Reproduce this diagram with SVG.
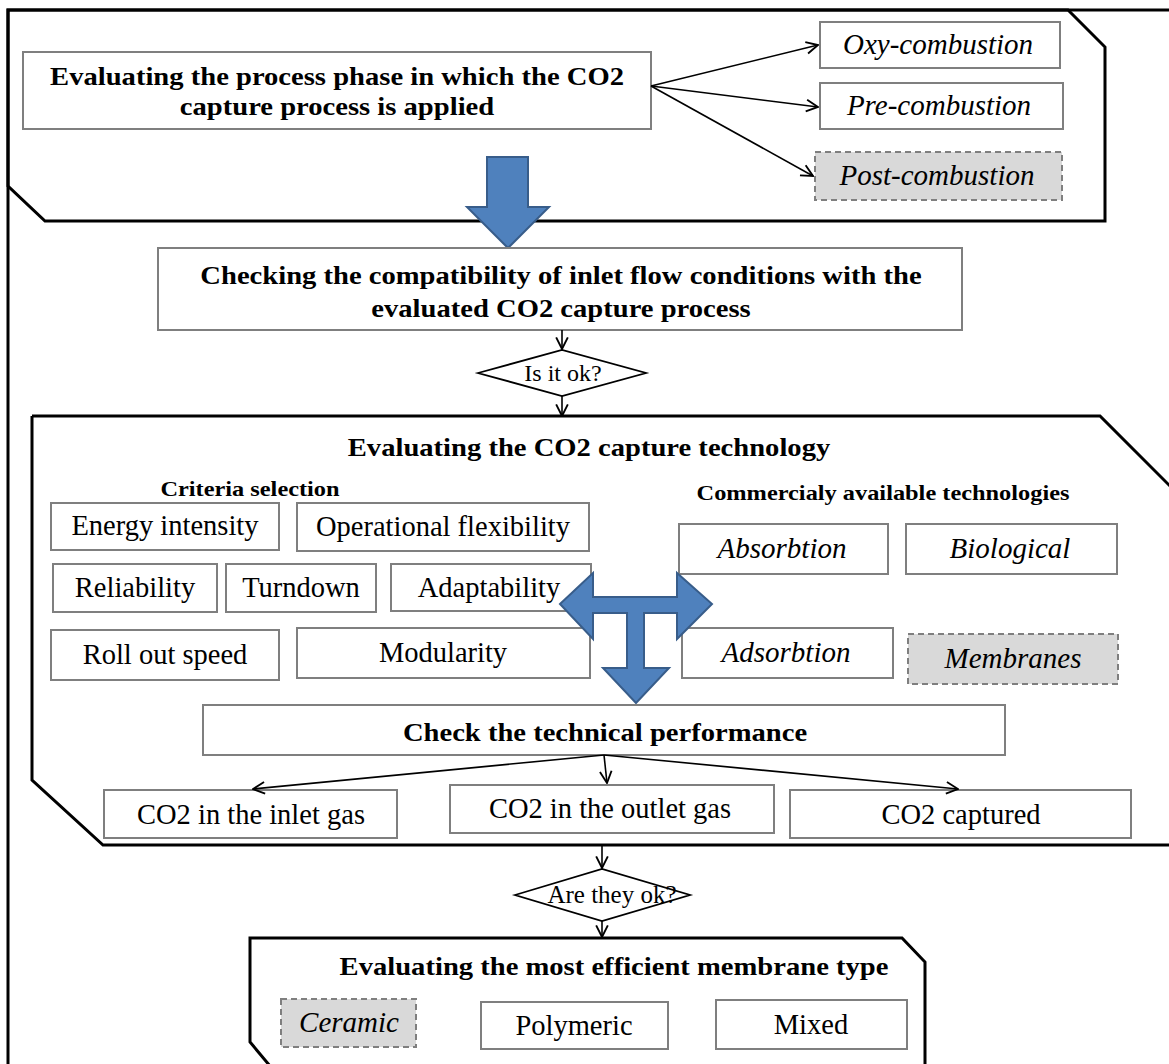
<svg xmlns="http://www.w3.org/2000/svg" width="1169" height="1064" viewBox="0 0 1169 1064">
<defs>
<style>
.panel{fill:none;stroke:#000;stroke-width:3;stroke-linejoin:miter}
.box{fill:#fff;stroke:#7f7f7f;stroke-width:2}
.sel{fill:#d9d9d9;stroke:#7f7f7f;stroke-width:2;stroke-dasharray:6 4}
.t{font-family:"Liberation Serif","Times New Roman",serif;fill:#000;text-anchor:middle}
.b{font-weight:bold;font-size:26px}
.h{font-weight:bold;font-size:21px}
.r{font-size:28.5px}
.i{font-size:29px;font-style:italic}
.d{font-size:24px}
.con{fill:none;stroke:#000;stroke-width:1.6}
.blue{fill:#4f81bd;stroke:#385d8a;stroke-width:2;stroke-linejoin:miter}
</style>
<marker id="ah" viewBox="0 0 12 12" refX="11" refY="6" markerWidth="14" markerHeight="14" markerUnits="userSpaceOnUse" orient="auto">
<path d="M1,1 L11,6 L1,11" fill="none" stroke="#000" stroke-width="1.6"/>
</marker>
</defs>
<rect width="1169" height="1064" fill="#fff"/>

<g id="frame">
<path class="panel" d="M8,1066 V10 H1172"/>
</g>

<g id="panel-phase">
<path class="panel" d="M8,10 H1068 L1105,47 V221 H45 L8,186 Z"/>
</g>
<g id="panel-tech">
<path class="panel" d="M32,416 H1100 L1175,491 M1172,845 H103 L32,780 V416"/>
</g>
<g id="panel-membrane">
<path class="panel" d="M270,1066 L250,1042 V938 H902 L925,962 V1066"/>
</g>

<g id="n-phase">
<rect class="box" x="23" y="52" width="628" height="77"/>
<text class="t b" transform="translate(337 85) scale(1.1 1)">Evaluating the process phase in which the CO2</text>
<text class="t b" transform="translate(337 115) scale(1.1 1)">capture process is applied</text>
</g>
<g id="n-oxy">
<rect class="box" x="820" y="22" width="240" height="46"/>
<text class="t i" x="938" y="54">Oxy-combustion</text>
</g>
<g id="n-pre">
<rect class="box" x="820" y="83" width="243" height="46"/>
<text class="t i" x="939" y="115">Pre-combustion</text>
</g>
<g id="n-post">
<rect class="sel" x="815" y="152" width="247" height="48"/>
<text class="t i" x="937" y="185">Post-combustion</text>
</g>

<g id="n-arrow1">
<path class="blue" d="M487,157 H528 V207 H549 L508,248 L467,207 H487 Z"/>
</g>

<g id="n-check">
<rect class="box" x="158" y="248" width="804" height="82"/>
<text class="t b" transform="translate(561 284) scale(1.1 1)">Checking the compatibility of inlet flow conditions with the</text>
<text class="t b" transform="translate(561 317) scale(1.1 1)">evaluated CO2 capture process</text>
</g>

<g id="n-ok1">
<path d="M478,373 L562,350 L646,373 L562,396 Z" fill="#fff" stroke="#000" stroke-width="1.8"/>
<text class="t d" x="563" y="381">Is it ok?</text>
</g>

<g id="n-tech-title">
<text class="t b" transform="translate(589 456) scale(1.1 1)">Evaluating the CO2 capture technology</text>
</g>
<g id="n-criteria-title">
<text class="t h" transform="translate(250 496) scale(1.16 1)">Criteria selection</text>
</g>
<g id="n-commercial-title">
<text class="t h" transform="translate(883 500) scale(1.16 1)">Commercialy available technologies</text>
</g>

<g id="n-energy"><rect class="box" x="51" y="503" width="228" height="47"/><text class="t r" x="165" y="535">Energy intensity</text></g>
<g id="n-opflex"><rect class="box" x="297" y="503" width="292" height="48"/><text class="t r" x="443" y="536">Operational flexibility</text></g>
<g id="n-reliab"><rect class="box" x="53" y="564" width="164" height="48"/><text class="t r" x="135" y="597">Reliability</text></g>
<g id="n-turndown"><rect class="box" x="226" y="564" width="150" height="48"/><text class="t r" x="301" y="597">Turndown</text></g>
<g id="n-adapt"><rect class="box" x="391" y="564" width="200" height="47"/><text class="t r" x="489" y="597">Adaptability</text></g>
<g id="n-rollout"><rect class="box" x="51" y="630" width="228" height="50"/><text class="t r" x="165" y="664">Roll out speed</text></g>
<g id="n-modular"><rect class="box" x="297" y="628" width="293" height="50"/><text class="t r" x="443" y="662">Modularity</text></g>

<g id="n-absorb"><rect class="box" x="679" y="524" width="209" height="50"/><text class="t i" x="782" y="558">Absorbtion</text></g>
<g id="n-bio"><rect class="box" x="906" y="524" width="211" height="50"/><text class="t i" x="1010" y="558">Biological</text></g>
<g id="n-adsorb"><rect class="box" x="682" y="628" width="211" height="50"/><text class="t i" x="786" y="662">Adsorbtion</text></g>
<g id="n-membr"><rect class="sel" x="908" y="634" width="210" height="50"/><text class="t i" x="1013" y="668">Membranes</text></g>

<g id="n-arrow2">
<path class="blue" d="M560,604 L593,573 V597 H677 V573 L712,604 L677,639 V613 H644 V668 H669 L636,703 L603,668 H627 V613 H593 V639 Z"/>
</g>

<g id="n-perf">
<rect class="box" x="203" y="705" width="802" height="50"/>
<text class="t b" transform="translate(605 741) scale(1.1 1)">Check the technical performance</text>
</g>
<g id="n-inlet"><rect class="box" x="104" y="790" width="293" height="48"/><text class="t r" x="251" y="824">CO2 in the inlet gas</text></g>
<g id="n-outlet"><rect class="box" x="450" y="785" width="324" height="48"/><text class="t r" x="610" y="818">CO2 in the outlet gas</text></g>
<g id="n-captured"><rect class="box" x="790" y="790" width="341" height="48"/><text class="t r" x="961" y="824">CO2 captured</text></g>

<g id="n-ok2">
<path d="M515,895 L602,869 L690,895 L602,921 Z" fill="#fff" stroke="#000" stroke-width="1.8"/>
<text class="t d" x="612" y="903" style="font-size:25px">Are they ok?</text>
</g>

<g id="n-membrane-title">
<text class="t b" transform="translate(614 975) scale(1.1 1)">Evaluating the most efficient membrane type</text>
</g>
<g id="n-ceramic"><rect class="sel" x="281" y="999" width="135" height="48"/><text class="t i" x="349" y="1032">Ceramic</text></g>
<g id="n-polymeric"><rect class="box" x="481" y="1002" width="187" height="47"/><text class="t r" x="574" y="1035">Polymeric</text></g>
<g id="n-mixed"><rect class="box" x="716" y="1000" width="191" height="49"/><text class="t r" x="811" y="1034">Mixed</text></g>

<g id="connectors">
<path class="con" d="M651,86 L818,45" marker-end="url(#ah)"/>
<path class="con" d="M651,86 L818,107" marker-end="url(#ah)"/>
<path class="con" d="M651,86 L813,176" stroke-width="2.2" marker-end="url(#ah)"/>
<path class="con" d="M562,330 V349" marker-end="url(#ah)"/>
<path class="con" d="M562,396 V416" marker-end="url(#ah)"/>
<path class="con" d="M604,755 L253,789" marker-end="url(#ah)"/>
<path class="con" d="M604,755 L607,783" marker-end="url(#ah)"/>
<path class="con" d="M604,755 L958,789" marker-end="url(#ah)"/>
<path class="con" d="M602,845 V868" marker-end="url(#ah)"/>
<path class="con" d="M602,921 V937" marker-end="url(#ah)"/>
</g>
</svg>
